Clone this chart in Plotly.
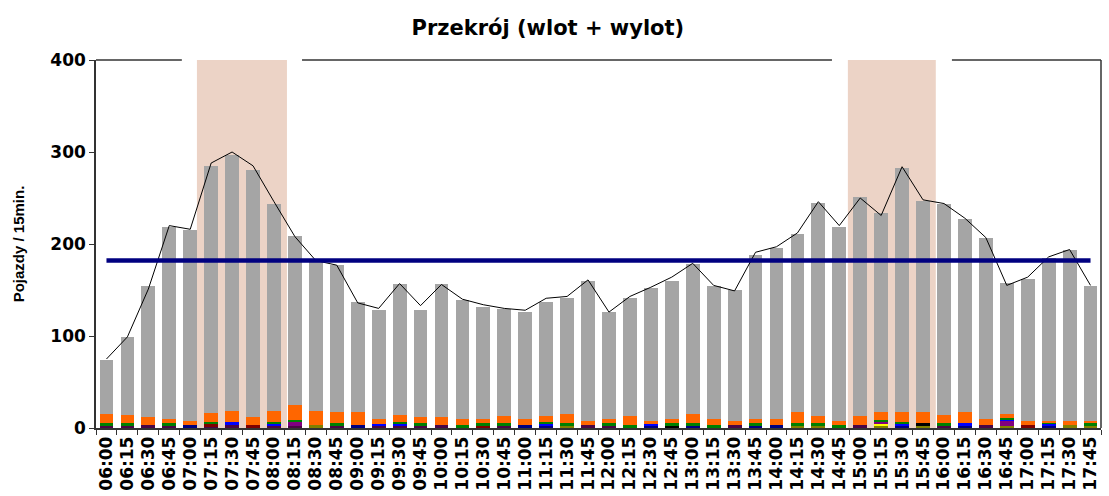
import plotly.graph_objects as go

# Przedziały 15-minutowe
godziny = [
    "06:00", "06:15", "06:30", "06:45", "07:00", "07:15", "07:30", "07:45",
    "08:00", "08:15", "08:30", "08:45", "09:00", "09:15", "09:30", "09:45",
    "10:00", "10:15", "10:30", "10:45", "11:00", "11:15", "11:30", "11:45",
    "12:00", "12:15", "12:30", "12:45", "13:00", "13:15", "13:30", "13:45",
    "14:00", "14:15", "14:30", "14:45", "15:00", "15:15", "15:30", "15:45",
    "16:00", "16:15", "16:30", "16:45", "17:00", "17:15", "17:30", "17:45",
]

# Natężenia wg kategorii pojazdów (od dołu stosu)
rowery = [3, 3, 3, 3, 0, 2, 3, 0, 3, 2, 0, 3, 0, 3, 3, 3,
          3, 0, 0, 3, 0, 0, 0, 3, 3, 0, 0, 0, 0, 0, 3, 0,
          0, 0, 0, 0, 3, 0, 0, 0, 3, 0, 3, 0, 0, 0, 0, 0]
motocykle = [0, 0, 0, 0, 3, 0, 0, 0, 0, 0, 0, 0, 3, 0, 0, 0,
             0, 0, 0, 0, 3, 3, 0, 0, 0, 0, 3, 0, 3, 0, 0, 3,
             3, 0, 0, 0, 0, 0, 3, 0, 0, 3, 0, 0, 0, 3, 0, 0]
ciagniki = [0, 0, 0, 0, 0, 2, 0, 3, 0, 0, 0, 0, 0, 0, 0, 0,
            0, 0, 3, 0, 0, 0, 0, 0, 0, 0, 0, 0, 0, 0, 0, 0,
            0, 0, 0, 0, 0, 0, 0, 0, 0, 0, 0, 0, 3, 0, 0, 0]
autobusy = [0, 0, 0, 0, 0, 0, 0, 0, 0, 0, 3, 0, 0, 0, 0, 0,
            0, 0, 0, 0, 0, 0, 3, 0, 0, 0, 0, 0, 0, 0, 0, 0,
            0, 3, 3, 0, 0, 3, 0, 3, 0, 0, 0, 2, 0, 0, 3, 3]
specjalne = [0, 0, 0, 0, 0, 0, 0, 0, 0, 0, 0, 0, 0, 0, 0, 0,
             0, 0, 0, 0, 0, 0, 0, 0, 0, 0, 0, 3, 0, 0, 0, 0,
             0, 0, 0, 0, 0, 0, 0, 2, 0, 0, 0, 0, 0, 0, 0, 0]
inne = [0, 0, 0, 0, 0, 0, 0, 0, 0, 0, 0, 0, 0, 0, 0, 0,
        0, 0, 0, 0, 0, 0, 0, 0, 0, 0, 0, 0, 0, 0, 0, 0,
        0, 0, 0, 0, 0, 2, 0, 0, 0, 0, 0, 0, 0, 0, 0, 0]
przegubowe = [0, 0, 0, 0, 0, 0, 0, 0, 0, 5, 0, 0, 0, 0, 0, 0,
              0, 0, 0, 0, 0, 0, 0, 0, 0, 0, 0, 0, 0, 0, 0, 0,
              0, 0, 0, 0, 0, 2, 0, 0, 0, 0, 0, 6, 0, 0, 0, 0]
z_przyczepa = [0, 0, 0, 0, 0, 0, 3, 0, 2, 0, 0, 0, 0, 1, 2, 0,
               0, 0, 0, 0, 0, 2, 0, 0, 0, 0, 1, 0, 0, 0, 0, 0,
               0, 0, 0, 0, 0, 0, 2, 0, 0, 2, 0, 1, 0, 2, 0, 0]
ciezarowe = [2, 2, 0, 2, 0, 3, 0, 0, 1, 2, 0, 2, 0, 0, 1, 2,
             0, 3, 2, 2, 0, 1, 2, 0, 2, 3, 0, 2, 2, 3, 0, 2,
             0, 2, 2, 3, 0, 2, 2, 0, 2, 0, 0, 2, 0, 1, 0, 2]
dostawcze = [10, 9, 9, 5, 5, 9, 13, 9, 13, 16, 16, 12, 14, 6, 8, 7,
             9, 7, 5, 8, 7, 7, 10, 5, 5, 10, 4, 5, 10, 7, 5, 5,
             7, 12, 8, 5, 10, 8, 10, 12, 9, 12, 7, 4, 5, 2, 5, 3]
osobowe = [59, 85, 142, 209, 207, 269, 278, 268, 225, 184, 161, 160, 120, 118, 142, 116,
           144, 129, 121, 116, 116, 124, 126, 152, 116, 128, 144, 150, 163, 144, 142, 178,
           186, 194, 232, 211, 238, 217, 266, 230, 229, 210, 197, 143, 154, 177, 186, 146]

# Suma pojazdów (linia) i poziom odniesienia
suma = [75, 99, 151, 220, 216, 288, 300, 285, 246, 208, 182, 177, 136, 130, 157, 133,
        156, 140, 134, 130, 128, 141, 143, 161, 126, 143, 153, 164, 179, 155, 149, 191,
        197, 212, 246, 220, 250, 231, 284, 248, 244, 228, 207, 155, 164, 186, 194, 155]
srednia = 182

# Godziny szczytu (zakres w indeksach kategorii)
szczyty = [(4.32, 8.62), (35.41, 39.61)]

serie = [
    ("Rowery", rowery, "#4a0645"),
    ("Motocykle", motocykle, "#000080"),
    ("Ciągniki", ciagniki, "#800000"),
    ("Autobusy", autobusy, "#808000"),
    ("Specjalne", specjalne, "#000000"),
    ("Inne", inne, "#FFFF00"),
    ("Autobusy przegubowe", przegubowe, "#800080"),
    ("Ciężarowe z przyczepą", z_przyczepa, "#0000FF"),
    ("Ciężarowe", ciezarowe, "#008000"),
    ("Dostawcze", dostawcze, "#FF6600"),
    ("Osobowe", osobowe, "#A5A5A5"),
]

SZEROKI = "DejaVu Sans, Verdana, sans-serif"
WASKI = "Liberation Sans, Arial, sans-serif"

fig = go.Figure()
for nazwa, wartosci, kolor in serie:
    fig.add_trace(go.Bar(x=godziny, y=wartosci, name=nazwa,
                         marker=dict(color=kolor, line=dict(width=0))))

fig.add_trace(go.Scatter(x=godziny, y=suma, mode="lines", name="Suma",
                         line=dict(color="black", width=1)))
fig.add_trace(go.Scatter(x=godziny, y=[srednia] * len(godziny), mode="lines",
                         name="Średnia", line=dict(color="#000080", width=4.5)))

ksztalty = []
for x0, x1 in szczyty:
    ksztalty.append(dict(type="rect", xref="x", yref="y", x0=x0, x1=x1, y0=0, y1=402,
                         fillcolor="#ECD3C6", line=dict(width=0), layer="below"))

# Górna krawędź obszaru wykresu z przerwami nad szczytami
for x0, x1 in [(-0.5, 3.6), (9.34, 34.65), (40.38, 47.5)]:
    ksztalty.append(dict(type="line", xref="x", yref="paper", x0=x0, x1=x1, y0=1, y1=1,
                         line=dict(color="#333333", width=1.5), layer="above"))
ksztalty.append(dict(type="line", xref="paper", yref="paper", x0=1, x1=1, y0=0, y1=1,
                     line=dict(color="#333333", width=1.5), layer="above"))

fig.update_layout(
    width=1109, height=496,
    margin=dict(l=96, r=8, t=60, b=68),
    barmode="stack", bargap=0.34,
    plot_bgcolor="white", paper_bgcolor="white",
    showlegend=False,
    shapes=ksztalty,
    title=dict(text="<b>Przekrój (wlot + wylot)</b>", x=0.494, xanchor="center",
               y=0.945, yanchor="middle",
               font=dict(family=SZEROKI, size=21, color="black")),
    font=dict(family=WASKI, color="black"),
)

fig.update_xaxes(
    type="category", range=[-0.5, 47.5], automargin=False,
    showline=True, linecolor="#333333", linewidth=1.5,
    ticks="outside", ticklen=5, tickcolor="#333333", tickson="boundaries",
    tickangle=-90, tickfont=dict(size=17, family=SZEROKI, color="black", weight="bold"),
    showgrid=False, zeroline=False,
)
fig.update_yaxes(
    range=[0, 400], tickvals=[0, 100, 200, 300, 400], automargin=False,
    showline=True, linecolor="#333333", linewidth=1.5,
    ticks="outside", ticklen=5, tickcolor="#333333",
    tickfont=dict(size=17, family=SZEROKI, color="black", weight="bold"),
    showgrid=False, zeroline=False,
    title=dict(text="<b>Pojazdy / 15min.</b>", standoff=22,
               font=dict(size=15, family=WASKI, color="black")),
)

fig.write_html("out.html")
